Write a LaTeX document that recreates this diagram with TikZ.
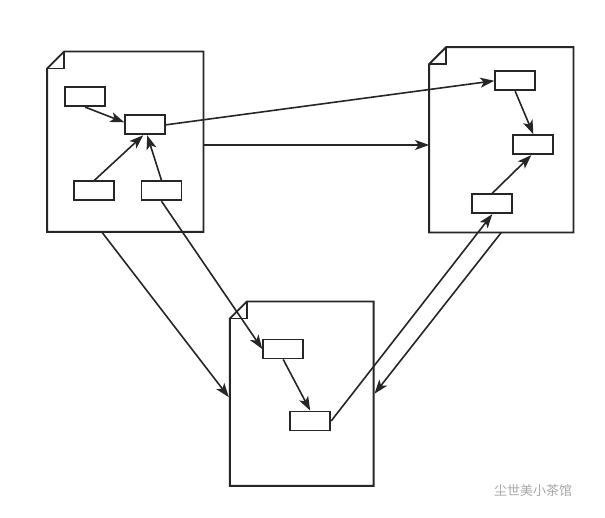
\documentclass[tikz,border=0pt]{standalone}
\usepackage{fontspec}
\newfontfamily\cjk{Noto Sans CJK SC}
\usetikzlibrary{arrows.meta,calc}
\definecolor{ink}{HTML}{262626}
\definecolor{wm}{HTML}{A8A8A8}
\tikzset{
  docarea/.style={draw=none,inner sep=0pt},
  docline/.style={draw=ink,line width=1.9pt,line join=miter},
  inbox/.style={draw=ink,line width=1.9pt,fill=white,minimum width=40pt,minimum height=19pt,inner sep=0pt},
  arr/.style={draw=ink,line width=1.6pt,-{Stealth[length=14pt,width=10pt,inset=3.5pt]}},
}
\newcommand{\docshape}[1]{%
  \draw[docline] ($(#1.north west)+(0,17)$) -- ($(#1.north west)+(17,0)$) -- (#1.north east) -- (#1.south east) -- (#1.south west) -- cycle;
  \draw[docline] ($(#1.north west)+(0,17)$) -- ($(#1.north west)+(17,17)$) -- ($(#1.north west)+(17,0)$);
}
\begin{document}
\begin{tikzpicture}[x=1pt,y=-1pt]
\useasboundingbox (0,0) rectangle (605,518);
\fill[white] (0,0) rectangle (605,518);
% documents
\node[docarea,minimum width=156pt,minimum height=180pt] (d1) at (125.3,141.7) {};
\node[docarea,minimum width=144pt,minimum height=185pt] (d2) at (501.3,139.8) {};
\node[docarea,minimum width=143.3pt,minimum height=184pt] (d3) at (301.7,393.7) {};
\docshape{d1}
\docshape{d2}
\docshape{d3}
% inner boxes
\node[inbox] (A) at (85.2,96.7) {};
\node[inbox] (B) at (145.2,124.8) {};
\node[inbox] (C) at (94.4,190.8) {};
\node[inbox] (D) at (161.5,190.8) {};
\node[inbox] (F) at (515.2,80.8) {};
\node[inbox] (G) at (533.3,144.7) {};
\node[inbox] (H) at (492.3,203.7) {};
\node[inbox] (E) at (283.2,349) {};
\node[inbox] (I) at (310.2,421) {};
% connectors
\draw[arr] (A.south) -- ($(B.west)+(0,-2.5)$);
\draw[arr] (C.north) -- ($(B.south)+(-2,0)$);
\draw[arr] (D.north) -- ($(B.south)+(2,0)$);
\draw[arr] (B.east) -- (F.west);
\coordinate (h1) at ($(d1.east)+(0,3.3)$);
\draw[arr] (h1) -- (h1 -| d2.west);
\draw[arr] (F.south) -- (G.north);
\draw[arr] (H.north) -- ($(G.south)+(-2,0)$);
\draw[arr] (E.south) -- (I.north);
\draw[arr] (I.east) -- (H.south);
\draw[arr] (D.south) -- (E.west);
\draw[arr] ($(d1.south)+(-23.6,0)$) -- ($(d3.west)+(-1,3.5)$);
\draw[arr] (d2.south) -- ($(d3.east)+(1,0)$);
% watermark
\node[text=wm,font=\cjk\fontsize{13}{13}\selectfont,anchor=west,inner sep=0pt] (wmk) at (494,491) {尘世美小茶馆};
\end{tikzpicture}
\end{document}
